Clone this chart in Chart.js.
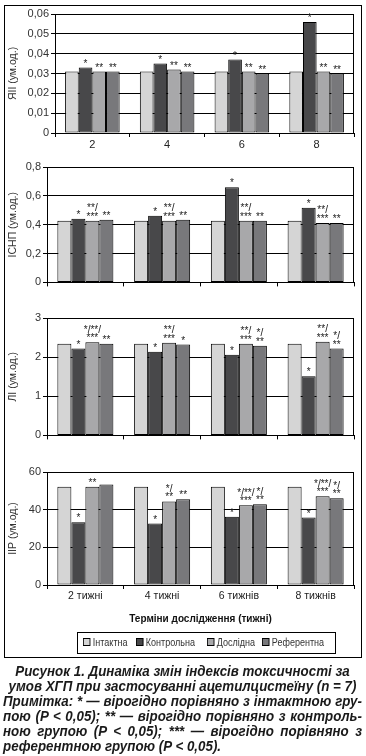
<!DOCTYPE html>
<html>
<head>
<meta charset="utf-8">
<script src="https://cdn.jsdelivr.net/npm/chart.js@4.4.0/dist/chart.umd.min.js"></script>
<style>
  body { margin: 0; background: #fff; font-family: "Liberation Sans", Arial, sans-serif; }
  #wrap { position: relative; width: 366px; height: 756px; overflow: hidden; }
  #frame { position: absolute; left: 4px; top: 5px; width: 356px; height: 651px; border: 1px solid #000; }
  canvas { position: absolute; left: 0; }
  #legend { position: absolute; left: 77px; top: 632px; width: 257px; height: 20px; border: 1px solid #000; font-size: 11px; color: #333; }
  #legend span { position: absolute; top: 3px; white-space: nowrap; transform: scaleX(0.82); transform-origin: 0 0; }
  #legend i { display: inline-block; width: 7px; height: 6px; border: 1px solid #000; margin-right: 3px; vertical-align: 0px; }
  #caption { position: absolute; left: 3px; top: 664px; font-size: 14px; font-weight: bold; font-style: italic; color: #1a1a1a; line-height: 15px; transform-origin: 0 0; }
  #caption div { white-space: nowrap; }
  .c { text-align: center; }
  .j { text-align: justify; text-align-last: justify; }
</style>
</head>
<body>
<div id="wrap">
  <div id="frame"></div>
  <canvas id="c1" width="366" height="155" style="top:4px"></canvas>
  <canvas id="c2" width="366" height="134" style="top:157px"></canvas>
  <canvas id="c3" width="366" height="136" style="top:308px"></canvas>
  <canvas id="c4" width="366" height="166" style="top:462px"></canvas>
  <div id="legend"></div>
  <div id="caption">
    <div class="c">Рисунок 1. Динаміка змін індексів токсичності за</div>
    <div class="c"><span id="ref2">умов ХГП при застосуванні ацетилцистеїну (n = 7)</span></div>
    <div class="j">Примітка: * — вірогідно порівняно з інтактною гру-</div>
    <div class="j">пою (P &lt; 0,05); ** — вірогідно порівняно з контроль-</div>
    <div class="j">ною групою (P &lt; 0,05); *** — вірогідно порівняно з</div>
    <div>референтною групою (P &lt; 0,05).</div>
  </div>
</div>
<script>
const weeksShort = ['2', '4', '6', '8'];
const weeksLong = ['2 тижні', '4 тижні', '6 тижнів', '8 тижнів'];
const groupNames = ['Інтактна', 'Контрольна', 'Дослідна', 'Референтна'];
const groupColors = ['#d5d5d5', '#48484a', '#a8a8aa', '#78787b'];

// ЯІІ
const yaiiIntact = [0.031, 0.031, 0.031, 0.031];
const yaiiControl = [0.033, 0.035, 0.037, 0.056];
const yaiiTest = [0.031, 0.032, 0.031, 0.031];
const yaiiRef = [0.031, 0.031, 0.030, 0.030];
const yaiiMarks = [[], ['*', '*', '*', '*'], ['**', '**', '**', '**'], ['**', '**', '**', '**']];

// ІСНП
const isnpIntact = [0.428, 0.428, 0.428, 0.428];
const isnpControl = [0.442, 0.462, 0.659, 0.517];
const isnpTest = [0.428, 0.428, 0.428, 0.412];
const isnpRef = [0.435, 0.435, 0.428, 0.412];
const isnpMarks = [[], ['*', '*', '*', '*'], ['**/\n***', '**/\n***', '**/\n***', '**/\n***'], ['**', '**', '**', '**']];

// ЛІ
const liIntact = [2.34, 2.34, 2.34, 2.34];
const liControl = [2.22, 2.14, 2.06, 1.51];
const liTest = [2.38, 2.37, 2.34, 2.39];
const liRef = [2.34, 2.32, 2.29, 2.22];
const liMarks = [[], ['*', '*', '*', '*'], ['*/**/\n***', '**/\n***', '**/\n***', '**/\n***'], ['**', '*', '*/\n**', '*/\n**']];

// ІІР
const iirIntact = [52.2, 52.2, 52.2, 52.2];
const iirControl = [33.3, 32.6, 36.3, 35.8];
const iirTest = [52.2, 44.4, 42.3, 47.1];
const iirRef = [53.4, 45.5, 42.9, 46.0];
const iirMarks = [[], ['*', '*', '*', '*'], ['**', '*/\n**', '*/**/\n***', '*/**/\n***'], ['', '**', '*/\n**', '*/\n**']];

const FONT = '"Liberation Sans", Arial, sans-serif';

const framePlugin = {
  id: 'frame',
  afterDraw(chart) {
    const a = chart.chartArea, ctx = chart.ctx;
    ctx.save();
    ctx.strokeStyle = '#000';
    ctx.lineWidth = 1;
    ctx.beginPath();
    const x = Math.round(a.right) - 0.5;
    ctx.moveTo(x, Math.round(a.top));
    ctx.lineTo(x, Math.round(a.bottom));
    ctx.stroke();
    ctx.restore();
  }
};

const marksPlugin = {
  id: 'marks',
  afterDatasetsDraw(chart) {
    const ctx = chart.ctx;
    ctx.save();
    ctx.font = '10px ' + FONT;
    ctx.fillStyle = '#222';
    ctx.textAlign = 'center';
    ctx.textBaseline = 'alphabetic';
    chart.data.datasets.forEach((ds, i) => {
      const meta = chart.getDatasetMeta(i);
      meta.data.forEach((bar, j) => {
        const m = ds.marks && ds.marks[j];
        if (!m) return;
        const lines = m.split('\n');
        lines.forEach((ln, k) => {
          ctx.fillText(ln, bar.x, bar.y - 1 - (lines.length - 1 - k) * 8.5);
        });
      });
    });
    ctx.restore();
  }
};

function makeChart(id, labels, series, marks, cfg) {
  new Chart(document.getElementById(id), {
    type: 'bar',
    data: {
      labels: labels,
      datasets: series.map((d, i) => ({
        label: groupNames[i],
        data: d,
        marks: marks[i],
        backgroundColor: groupColors[i],
        borderColor: '#000',
        borderWidth: 1,
        borderSkipped: false
      }))
    },
    options: {
      responsive: false,
      animation: false,
      layout: { padding: { top: 10, right: 12, left: 0, bottom: 0 } },
      datasets: { bar: { categoryPercentage: 0.73, barPercentage: 1 } },
      plugins: { legend: { display: false }, tooltip: { enabled: false } },
      scales: {
        x: {
          grid: { offset: true, drawOnChartArea: false, color: '#000', tickLength: 4 },
          border: { color: '#000' },
          ticks: { display: cfg.showLabels, color: '#222', padding: 1, font: { family: FONT, size: cfg.xSize || 11 } },
          title: {
            display: !!cfg.xTitle,
            text: cfg.xTitle,
            color: '#111',
            font: { family: FONT, size: 10, weight: 'bold' },
            padding: { top: 0, bottom: 3 }
          },
          afterFit: s => { s.height = cfg.xH; }
        },
        y: {
          min: 0,
          max: cfg.max,
          ticks: {
            stepSize: cfg.step,
            color: '#333',
            padding: 2,
            font: { family: FONT, size: 11 },
            callback: v => v === 0 ? '0' : v.toFixed(cfg.dec).replace('.', ',')
          },
          grid: { color: '#000', tickLength: 4 },
          border: { color: '#000' },
          title: {
            display: true,
            text: cfg.yTitle,
            color: '#333',
            font: { family: FONT, size: 10.5 },
            padding: { top: 7, bottom: 0 }
          },
          afterFit: s => { s.width = cfg.yW; }
        }
      }
    },
    plugins: [framePlugin, marksPlugin]
  });
}

makeChart('c1', weeksShort, [yaiiIntact, yaiiControl, yaiiTest, yaiiRef], yaiiMarks,
  { max: 0.06, step: 0.01, dec: 2, yTitle: 'ЯІІ (ум.од.)', yW: 55, xH: 26, showLabels: true });
makeChart('c2', weeksShort, [isnpIntact, isnpControl, isnpTest, isnpRef], isnpMarks,
  { max: 0.8, step: 0.2, dec: 1, yTitle: 'ІСНП (ум.од.)', yW: 47, xH: 6, showLabels: false });
makeChart('c3', weeksShort, [liIntact, liControl, liTest, liRef], liMarks,
  { max: 3, step: 1, dec: 0, yTitle: 'ЛІ (ум.од.)', yW: 47, xH: 6, showLabels: false });
makeChart('c4', weeksLong, [iirIntact, iirControl, iirTest, iirRef], iirMarks,
  { max: 60, step: 20, dec: 0, yTitle: 'ІІР (ум.од.)', yW: 47, xH: 43, showLabels: true, xSize: 10.5, xTitle: 'Терміни дослідження (тижні)' });

// legend
const legendX = [5, 58, 129, 184];
const legend = document.getElementById('legend');
groupNames.forEach((n, i) => {
  const s = document.createElement('span');
  s.style.left = legendX[i] + 'px';
  s.innerHTML = '<i style="background:' + groupColors[i] + '"></i>' + n;
  legend.appendChild(s);
});

// squeeze caption so line 2 is as wide as in the print
const cap = document.getElementById('caption');
const natural = document.getElementById('ref2').getBoundingClientRect().width;
const k = 348 / natural;
cap.style.width = (359 / k) + 'px';
cap.style.transform = 'scaleX(' + k + ')';
</script>
</body>
</html>
